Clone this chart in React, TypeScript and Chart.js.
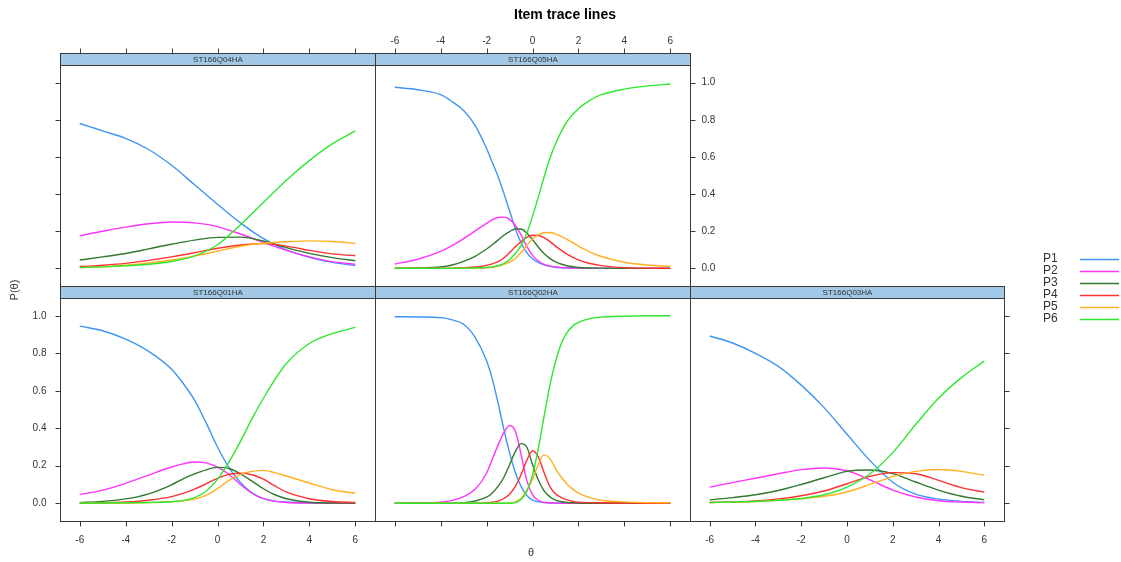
import React, { useEffect, useRef } from "react";
import { Chart, registerables } from "chart.js";

Chart.register(...registerables);

const WIDTH = 1121;
const HEIGHT = 562;

const titleText = "Item trace lines";
const xAxisTitle = "θ";
const yAxisTitle = "P(θ)";
const seriesLabels = ["P1", "P2", "P3", "P4", "P5", "P6"];
const seriesColors = ["#3d96f2", "#ff33ff", "#2f7a2f", "#ff3030", "#ffb020", "#2ee82e"];
const xTickValues = [-6, -4, -2, 0, 2, 4, 6];
const xTickLabels = ["-6", "-4", "-2", "0", "2", "4", "6"];
const yTickValues = [0, 0.2, 0.4, 0.6, 0.8, 1.0];
const yTickLabels = ["0.0", "0.2", "0.4", "0.6", "0.8", "1.0"];

// ---- ST166Q04HA ----
const q04Theta = [-6, -5, -4, -3, -2, -1, 0, 1, 2, 3, 4, 5, 6];
const q04P1 = [0.78, 0.74, 0.7, 0.64, 0.555, 0.45, 0.345, 0.245, 0.16, 0.1, 0.06, 0.032, 0.015];
const q04P2 = [0.175, 0.2, 0.222, 0.24, 0.25, 0.245, 0.225, 0.185, 0.14, 0.097, 0.062, 0.036, 0.022];
const q04P3 = [0.045, 0.062, 0.08, 0.105, 0.13, 0.152, 0.167, 0.168, 0.147, 0.112, 0.081, 0.058, 0.041];
const q04P4 = [0.01, 0.017, 0.027, 0.043, 0.062, 0.084, 0.108, 0.126, 0.133, 0.12, 0.097, 0.078, 0.068];
const q04P5 = [0.004, 0.009, 0.017, 0.029, 0.045, 0.066, 0.093, 0.119, 0.135, 0.143, 0.148, 0.145, 0.135];
const q04P6 = [0.004, 0.008, 0.014, 0.022, 0.037, 0.067, 0.127, 0.235, 0.355, 0.475, 0.58, 0.67, 0.74];

// ---- ST166Q05HA ----
const q05Theta = [-6, -5, -4, -3.5, -3, -2.5, -2, -1.75, -1.5, -1.25, -1, -0.75, -0.5, -0.25, 0, 0.25, 0.5, 0.75, 1, 1.5, 2, 2.5, 3, 4, 5, 6];
const q05P1 = [0.975, 0.962, 0.935, 0.898, 0.85, 0.77, 0.645, 0.57, 0.495, 0.405, 0.31, 0.215, 0.138, 0.085, 0.052, 0.032, 0.019, 0.011, 0.006, 0.002, 0.001, 0, 0, 0, 0, 0];
const q05P2 = [0.023, 0.049, 0.092, 0.122, 0.16, 0.202, 0.242, 0.262, 0.274, 0.276, 0.264, 0.232, 0.18, 0.118, 0.07, 0.04, 0.022, 0.013, 0.008, 0.003, 0.001, 0, 0, 0, 0, 0];
const q05P3 = [0.001, 0.002, 0.007, 0.018, 0.038, 0.065, 0.104, 0.127, 0.152, 0.178, 0.198, 0.212, 0.212, 0.19, 0.155, 0.115, 0.08, 0.054, 0.035, 0.014, 0.005, 0.002, 0.001, 0, 0, 0];
const q05P4 = [0, 0, 0, 0.001, 0.003, 0.007, 0.016, 0.024, 0.036, 0.056, 0.085, 0.116, 0.145, 0.167, 0.178, 0.177, 0.165, 0.145, 0.12, 0.077, 0.046, 0.026, 0.015, 0.004, 0.001, 0];
const q05P5 = [0, 0, 0, 0, 0, 0.001, 0.003, 0.006, 0.012, 0.021, 0.033, 0.053, 0.085, 0.123, 0.158, 0.18, 0.192, 0.193, 0.186, 0.156, 0.12, 0.088, 0.064, 0.033, 0.018, 0.011];
const q05P6 = [0, 0, 0, 0, 0.001, 0.002, 0.005, 0.008, 0.014, 0.026, 0.048, 0.08, 0.122, 0.188, 0.28, 0.382, 0.49, 0.59, 0.67, 0.79, 0.86, 0.905, 0.935, 0.965, 0.982, 0.993];

// ---- ST166Q01HA ----
const q01Theta = [-6, -5, -4, -3, -2, -1.5, -1, -0.5, 0, 0.5, 1, 1.5, 2, 2.5, 3, 4, 5, 6];
const q01P1 = [0.945, 0.92, 0.875, 0.81, 0.715, 0.64, 0.55, 0.43, 0.3, 0.19, 0.11, 0.055, 0.024, 0.011, 0.006, 0.002, 0.001, 0];
const q01P2 = [0.046, 0.07, 0.106, 0.15, 0.193, 0.21, 0.22, 0.215, 0.192, 0.153, 0.1, 0.053, 0.024, 0.01, 0.004, 0.001, 0, 0];
const q01P3 = [0.003, 0.01, 0.023, 0.05, 0.098, 0.13, 0.156, 0.178, 0.191, 0.185, 0.157, 0.118, 0.077, 0.045, 0.024, 0.005, 0.001, 0];
const q01P4 = [0, 0.002, 0.006, 0.016, 0.035, 0.052, 0.075, 0.103, 0.133, 0.154, 0.16, 0.152, 0.128, 0.092, 0.06, 0.024, 0.009, 0.004];
const q01P5 = [0, 0, 0.001, 0.003, 0.008, 0.013, 0.022, 0.042, 0.078, 0.122, 0.154, 0.17, 0.175, 0.163, 0.145, 0.108, 0.072, 0.053];
const q01P6 = [0, 0.001, 0.002, 0.004, 0.008, 0.014, 0.03, 0.064, 0.127, 0.22, 0.33, 0.45, 0.56, 0.66, 0.745, 0.852, 0.905, 0.938];

// ---- ST166Q02HA ----
const q02Theta = [-6, -5, -4, -3.5, -3, -2.5, -2, -1.75, -1.5, -1.25, -1, -0.75, -0.5, -0.25, 0, 0.25, 0.5, 0.75, 1, 1.25, 1.5, 1.75, 2, 2.5, 3, 4, 5, 6];
const q02P1 = [0.995, 0.994, 0.99, 0.978, 0.955, 0.885, 0.76, 0.662, 0.535, 0.395, 0.27, 0.165, 0.09, 0.042, 0.016, 0.007, 0.003, 0.001, 0.001, 0, 0, 0, 0, 0, 0, 0, 0, 0];
const q02P2 = [0, 0.001, 0.006, 0.015, 0.035, 0.074, 0.16, 0.235, 0.31, 0.375, 0.415, 0.385, 0.262, 0.122, 0.046, 0.015, 0.005, 0.002, 0.001, 0, 0, 0, 0, 0, 0, 0, 0, 0];
const q02P3 = [0, 0, 0, 0, 0.003, 0.012, 0.032, 0.055, 0.09, 0.137, 0.205, 0.275, 0.318, 0.3, 0.207, 0.125, 0.067, 0.035, 0.016, 0.008, 0.004, 0.002, 0.001, 0, 0, 0, 0, 0];
const q02P4 = [0, 0, 0, 0, 0, 0, 0.002, 0.005, 0.011, 0.025, 0.048, 0.09, 0.152, 0.228, 0.28, 0.248, 0.165, 0.09, 0.05, 0.03, 0.018, 0.01, 0.006, 0.003, 0.002, 0.001, 0, 0];
const q02P5 = [0, 0, 0, 0, 0, 0, 0, 0, 0, 0, 0.002, 0.007, 0.025, 0.068, 0.127, 0.205, 0.258, 0.24, 0.185, 0.14, 0.103, 0.075, 0.054, 0.03, 0.016, 0.007, 0.003, 0.002];
const q02P6 = [0, 0, 0, 0, 0, 0, 0, 0, 0, 0, 0, 0.003, 0.02, 0.062, 0.15, 0.29, 0.46, 0.625, 0.755, 0.85, 0.91, 0.945, 0.965, 0.985, 0.993, 0.998, 1, 1];

// ---- ST166Q03HA ----
const q03Theta = [-6, -5, -4, -3, -2, -1, 0, 1, 2, 3, 4, 5, 6];
const q03P1 = [0.892, 0.855, 0.8, 0.73, 0.63, 0.51, 0.368, 0.228, 0.112, 0.048, 0.022, 0.01, 0.004];
const q03P2 = [0.086, 0.11, 0.133, 0.157, 0.179, 0.188, 0.173, 0.125, 0.07, 0.033, 0.013, 0.006, 0.003];
const q03P3 = [0.018, 0.03, 0.045, 0.068, 0.1, 0.136, 0.17, 0.177, 0.158, 0.113, 0.07, 0.037, 0.018];
const q03P4 = [0.004, 0.007, 0.012, 0.023, 0.04, 0.065, 0.104, 0.143, 0.163, 0.157, 0.122, 0.083, 0.059];
const q03P5 = [0.004, 0.006, 0.009, 0.015, 0.024, 0.037, 0.06, 0.1, 0.142, 0.17, 0.18, 0.17, 0.149];
const q03P6 = [0.004, 0.006, 0.009, 0.015, 0.025, 0.045, 0.086, 0.156, 0.27, 0.42, 0.56, 0.67, 0.758];

// ---- layout / style (not data) ----
const FONT = "'Liberation Sans', Arial, Helvetica, sans-serif";
const STRIP_H = 12;
const STRIP_FILL = "#a1c9e7";
const FRAME = "#3a3a3a";
const TEXT = "#333333";
const TICK_LEN = 5;
const X_MIN = -6.86;
const X_MAX = 6.86;
const Y_MIN = -0.095;
const Y_MAX = 1.095;
const LINE_W = 1.4;

type Side = "none" | "ticks" | "labels";
type PanelSpec = {
  name: string;
  theta: number[];
  values: number[][];
  box: { x: number; y: number; w: number; h: number };
  left: Side;
  right: Side;
  top: Side;
  bottom: Side;
};

const panels: PanelSpec[] = [
  { name: "ST166Q04HA", theta: q04Theta, values: [q04P1, q04P2, q04P3, q04P4, q04P5, q04P6], box: { x: 60, y: 65, w: 315, h: 221 }, left: "ticks", right: "none", top: "ticks", bottom: "none" },
  { name: "ST166Q05HA", theta: q05Theta, values: [q05P1, q05P2, q05P3, q05P4, q05P5, q05P6], box: { x: 375, y: 65, w: 315, h: 221 }, left: "none", right: "labels", top: "labels", bottom: "none" },
  { name: "ST166Q01HA", theta: q01Theta, values: [q01P1, q01P2, q01P3, q01P4, q01P5, q01P6], box: { x: 60, y: 298, w: 315, h: 223 }, left: "labels", right: "none", top: "none", bottom: "labels" },
  { name: "ST166Q02HA", theta: q02Theta, values: [q02P1, q02P2, q02P3, q02P4, q02P5, q02P6], box: { x: 375, y: 298, w: 315, h: 223 }, left: "none", right: "none", top: "none", bottom: "ticks" },
  { name: "ST166Q03HA", theta: q03Theta, values: [q03P1, q03P2, q03P3, q03P4, q03P5, q03P6], box: { x: 690, y: 298, w: 314, h: 223 }, left: "none", right: "ticks", top: "none", bottom: "labels" },
];

function drawPanelDecor(chart: any, spec: PanelSpec) {
  const ctx: CanvasRenderingContext2D = chart.ctx;
  const ca = chart.chartArea;
  const xs = chart.scales.x;
  const ys = chart.scales.y;
  const L = Math.round(ca.left) + 0.5;
  const R = Math.round(ca.right) + 0.5;
  const T = Math.round(ca.top) + 0.5;
  const B = Math.round(ca.bottom) + 0.5;
  const stripTop = T - STRIP_H;
  ctx.save();
  ctx.fillStyle = STRIP_FILL;
  ctx.fillRect(L, stripTop, R - L, STRIP_H);
  ctx.strokeStyle = FRAME;
  ctx.lineWidth = 1;
  ctx.strokeRect(L, stripTop, R - L, STRIP_H);
  ctx.fillStyle = TEXT;
  ctx.font = `8px ${FONT}`;
  ctx.textAlign = "center";
  ctx.textBaseline = "middle";
  ctx.fillText(spec.name, (L + R) / 2, stripTop + STRIP_H / 2 + 0.5);
  ctx.strokeRect(L, T, R - L, B - T);

  ctx.font = `10px ${FONT}`;
  ctx.fillStyle = TEXT;
  ctx.beginPath();
  if (spec.bottom !== "none") {
    xTickValues.forEach((v) => {
      const px = Math.round(xs.getPixelForValue(v)) + 0.5;
      ctx.moveTo(px, B);
      ctx.lineTo(px, B + TICK_LEN);
    });
  }
  if (spec.top !== "none") {
    xTickValues.forEach((v) => {
      const px = Math.round(xs.getPixelForValue(v)) + 0.5;
      ctx.moveTo(px, stripTop);
      ctx.lineTo(px, stripTop - TICK_LEN);
    });
  }
  if (spec.left !== "none") {
    yTickValues.forEach((v) => {
      const py = Math.round(ys.getPixelForValue(v)) + 0.5;
      ctx.moveTo(L, py);
      ctx.lineTo(L - TICK_LEN, py);
    });
  }
  if (spec.right !== "none") {
    yTickValues.forEach((v) => {
      const py = Math.round(ys.getPixelForValue(v)) + 0.5;
      ctx.moveTo(R, py);
      ctx.lineTo(R + TICK_LEN, py);
    });
  }
  ctx.stroke();

  if (spec.bottom === "labels") {
    ctx.textAlign = "center";
    ctx.textBaseline = "middle";
    xTickValues.forEach((v, i) => ctx.fillText(xTickLabels[i], xs.getPixelForValue(v), B + 19));
  }
  if (spec.top === "labels") {
    ctx.textAlign = "center";
    ctx.textBaseline = "middle";
    xTickValues.forEach((v, i) => ctx.fillText(xTickLabels[i], xs.getPixelForValue(v), stripTop - 12));
  }
  if (spec.left === "labels") {
    ctx.textAlign = "right";
    ctx.textBaseline = "middle";
    yTickValues.forEach((v, i) => ctx.fillText(yTickLabels[i], L - 14, ys.getPixelForValue(v)));
  }
  if (spec.right === "labels") {
    ctx.textAlign = "left";
    ctx.textBaseline = "middle";
    yTickValues.forEach((v, i) => ctx.fillText(yTickLabels[i], R + 11, ys.getPixelForValue(v)));
  }
  ctx.restore();
}

function drawPageDecor(chart: any) {
  const ctx: CanvasRenderingContext2D = chart.ctx;
  ctx.save();
  ctx.fillStyle = "#000";
  ctx.font = `bold 14px ${FONT}`;
  ctx.textAlign = "center";
  ctx.textBaseline = "middle";
  ctx.fillText(titleText, 565, 15);

  ctx.fillStyle = TEXT;
  ctx.font = `11px ${FONT}`;
  ctx.fillText(xAxisTitle, 531, 553);
  ctx.save();
  ctx.translate(15, 290);
  ctx.rotate(-Math.PI / 2);
  ctx.fillText(yAxisTitle, 0, 0);
  ctx.restore();

  ctx.font = `12px ${FONT}`;
  ctx.textAlign = "left";
  seriesLabels.forEach((lab, i) => {
    const y = 259 + i * 12;
    ctx.fillStyle = TEXT;
    ctx.fillText(lab, 1043, y);
    ctx.strokeStyle = seriesColors[i];
    ctx.lineWidth = LINE_W;
    ctx.beginPath();
    ctx.moveTo(1080, y + 0.5);
    ctx.lineTo(1119, y + 0.5);
    ctx.stroke();
  });
  ctx.restore();
}

function buildConfig(spec: PanelSpec, withPage: boolean): any {
  const datasets = spec.values.map((vals, s) => ({
    label: seriesLabels[s],
    data: spec.theta.map((t, i) => ({ x: t, y: vals[i] })),
    borderColor: seriesColors[s],
    backgroundColor: seriesColors[s],
    borderWidth: LINE_W,
    pointRadius: 0,
    fill: false,
    cubicInterpolationMode: "monotone",
    order: seriesLabels.length - s,
  }));
  const b = spec.box;
  return {
    type: "line",
    data: { datasets },
    options: {
      responsive: false,
      animation: false,
      devicePixelRatio: 1,
      layout: { padding: { left: b.x, top: b.y, right: WIDTH - b.x - b.w, bottom: HEIGHT - b.y - b.h } },
      scales: {
        x: { type: "linear", min: X_MIN, max: X_MAX, display: false },
        y: { type: "linear", min: Y_MIN, max: Y_MAX, display: false },
      },
      plugins: { legend: { display: false }, tooltip: { enabled: false }, title: { display: false } },
    },
    plugins: [
      {
        id: "panelDecor" + spec.name,
        afterDraw(chart: any) {
          drawPanelDecor(chart, spec);
          if (withPage) drawPageDecor(chart);
        },
      },
    ],
  };
}

export default function App() {
  const refs = useRef<(HTMLCanvasElement | null)[]>([]);
  useEffect(() => {
    const charts = panels.map((p, i) => new Chart(refs.current[i] as HTMLCanvasElement, buildConfig(p, i === 0)));
    return () => charts.forEach((c) => c.destroy());
  }, []);
  return (
    <div style={{ position: "fixed", left: 0, top: 0, width: WIDTH, height: HEIGHT, background: "#fff" }}>
      {panels.map((p, i) => (
        <canvas
          key={p.name}
          ref={(el) => {
            refs.current[i] = el;
          }}
          width={WIDTH}
          height={HEIGHT}
          style={{ position: "absolute", left: 0, top: 0, width: WIDTH, height: HEIGHT }}
        />
      ))}
    </div>
  );
}
